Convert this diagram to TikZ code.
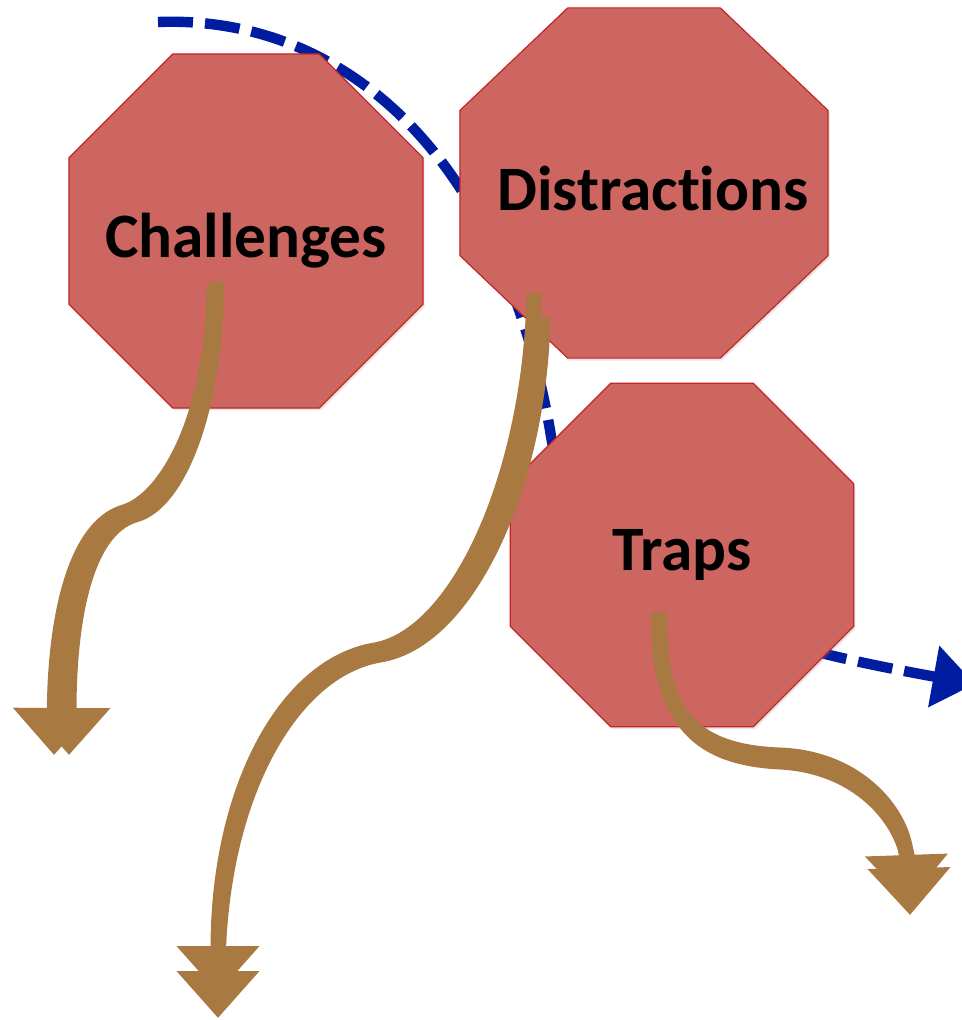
\documentclass[tikz,border=0pt]{standalone}
\usepackage{fontspec}
\setmainfont{Carlito}[Ligatures=NoCommon]
\usetikzlibrary{shapes.geometric,arrows.meta,shadows}

\definecolor{signred}{RGB}{205,102,96}
\definecolor{signedge}{RGB}{196,38,38}
\definecolor{trailbrown}{RGB}{168,122,66}
\definecolor{routeblue}{RGB}{0,28,160}

\begin{document}
\begin{tikzpicture}[x=0.25mm,y=-0.25mm,
  stopsign/.style={draw=signedge, fill=signred, line width=0.3mm,
    regular polygon, regular polygon sides=8, inner sep=0pt,
    drop shadow={opacity=0.2, shadow xshift=0.4mm, shadow yshift=-0.6mm}},
  signtext/.style={anchor=base, inner sep=0pt,
    font=\fontsize{45}{54}\selectfont\bfseries},
  detour/.style={draw=trailbrown, line width=3.75mm,
    -{Triangle[length=11.75mm,width=20mm]}},
  wayround/.style={draw=routeblue, line width=2.6mm,
    dash pattern=on 8.75mm off 3mm,
    -{Triangle[length=10.5mm,width=15mm]}}]
\useasboundingbox (0,0) rectangle (961,1020);

% dashed way round, behind the signs
\coordinate (s) at (158,22);
\coordinate (m) at (550,430);
\coordinate (e) at (975,684);
\path[wayround] (s) .. controls (340,15) and (500,150) .. (m)
  .. controls (575,600) and (760,645) .. (e);

\node[stopsign, minimum size=95.8mm] (chal) at (246,231) {};
\node[stopsign, minimum size=97.2mm, xscale=1.025, yscale=0.975,
  transform shape] (dist) at (644,183) {};
\node[stopsign, minimum size=93mm] (trap) at (682,555) {};

\node[signtext] (chaltext) at (246,257) {Challenges};
\node[signtext] (disttext) at (653,210) {Distract\kern0pt ions};
\node[signtext] (traptext) at (682,570) {Traps};

% where the trails start and end
\coordinate (c1) at (214,290);
\coordinate (c2) at (217,282);
\coordinate (ce1) at (54,755);
\coordinate (ce2) at (69,755);
\coordinate (d1) at (534,293);
\coordinate (d2) at (543,317);
\coordinate (de1) at (218,993);
\coordinate (de2) at (218,1018);
\coordinate (t1) at (659,612);
\coordinate (t2) at (660,612);
\coordinate (te1) at (908,902);
\coordinate (te2) at (910,915);

\path[detour] (c1) .. controls (212,420) and (165,500) .. (124,512)
  .. controls (74,527) and (55,620) .. (ce1);
\path[detour] (c2) .. controls (215,420) and (175,505) .. (135,515)
  .. controls (85,530) and (69,620) .. (ce2);

\path[detour] (d1) .. controls (531,470) and (460,635) .. (375,650)
  .. controls (285,665) and (218,790) .. (de1);
\path[detour] (d2) .. controls (540,480) and (470,640) .. (380,655)
  .. controls (290,670) and (218,800) .. (de2);

\path[detour] (t1) .. controls (655,720) and (700,752) .. (780,755)
  .. controls (860,758) and (905,815) .. (te1);
\path[detour] (t2) .. controls (657,725) and (702,758) .. (780,762)
  .. controls (862,766) and (908,825) .. (te2);
\end{tikzpicture}
\end{document}
